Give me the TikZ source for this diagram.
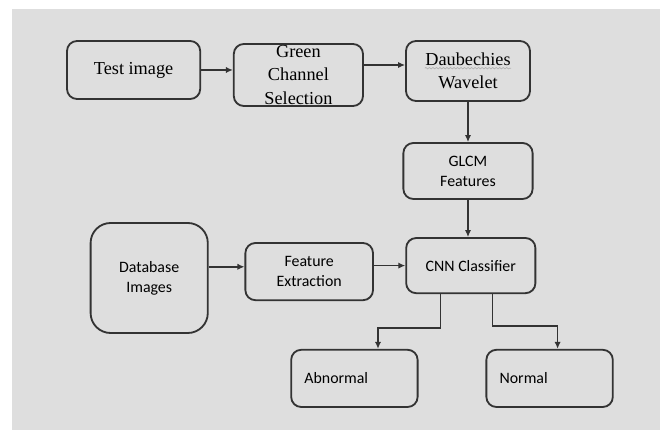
\documentclass[tikz,border=0pt]{standalone}
\usepackage{fontspec}
\setmainfont{Liberation Serif}
\newfontfamily\calibri{Carlito}
\usetikzlibrary{arrows.meta,decorations.pathmorphing}
\definecolor{panelgray}{HTML}{DEDEDE}
\definecolor{linegray}{HTML}{333333}

\begin{document}
\begin{tikzpicture}[->,>={Latex[length=5pt,width=4.5pt]},line width=1.1pt,draw=linegray,
    box node/.style={rounded corners=0.25cm,draw=linegray,line width=1.3pt,align=center,inner sep=0pt,text=black,font=\fontsize{13}{16.4}\selectfont},
    sans node/.style={box node,font=\calibri\fontsize{11.3}{14.2}\selectfont},
    out node/.style={sans node,align=left,text width=2.5cm,inner xsep=0.33cm}]
    \fill[panelgray] (0.31,-0.225) rectangle (16.5,-10.75);
    \useasboundingbox (0,0) rectangle (16.5,-10.75);

    \node[box node,minimum width=3.33cm,minimum height=1.45cm] (test) at (3.34,-1.75) {Test image};
    \node[box node,minimum width=3.23cm,minimum height=1.55cm,inner ysep=-3pt] (green) [right of=test,node distance=4.12cm,yshift=-0.125cm] {Green\\Channel\\Selection};
    \node[box node,minimum width=3.1cm,minimum height=1.5cm] (daub) [right of=green,node distance=4.24cm,yshift=0.1cm] {Daubechies\\Wavelet};
    \node[sans node,minimum width=3.23cm,minimum height=1.4cm] (glcm) [below of=daub,node distance=2.5cm] {GLCM\\Features};
    \node[sans node,minimum width=3.23cm,minimum height=1.38cm] (cnn) [below of=glcm,node distance=2.365cm,xshift=0.07cm] {CNN Classifier};
    \node[sans node,minimum width=3.19cm,minimum height=1.43cm] (fe) [left of=cnn,node distance=4.04cm,yshift=-0.15cm] {Feature\\Extraction};
    \node[sans node,rounded corners=0.5cm,minimum width=2.93cm,minimum height=2.75cm] (db) [left of=fe,node distance=4cm,yshift=-0.16cm] {Database\\Images};
    \node[out node,minimum height=1.43cm] (abn) [below of=cnn,node distance=2.82cm,xshift=-2.91cm] {Abnormal};
    \node[out node,minimum height=1.43cm] (norm) [right of=abn,node distance=4.88cm] {Normal};

    % spell-check squiggle under Daubechies
    \draw[-,gray!60,line width=0.5pt,decorate,decoration={snake,amplitude=0.5pt,segment length=2.5pt}] ([xshift=-1.08cm,yshift=0.07cm]daub.center) -- ([xshift=1.08cm,yshift=0.07cm]daub.center);

    \coordinate (gout) at ([yshift=0.25cm]green.east);
    \coordinate (dbout) at ([yshift=0.28cm]db.east);
    \draw (test.east) -- (test.east -| green.west);
    \draw (gout) -- (gout -| daub.west);
    \draw (daub.south) -- (daub.south |- glcm.north);
    \draw (glcm.south) -- (glcm.south |- cnn.north);
    \draw (dbout) -- (dbout -| fe.west);
    \draw (cnn.west -| fe.east) -- (cnn.west);
    \draw ([xshift=-0.76cm]cnn.south) -- ++(0,-0.85) -| ([xshift=0.59cm]abn.north);
    \draw ([xshift=0.54cm]cnn.south) -- ++(0,-0.8) -| ([xshift=0.2cm]norm.north);
\end{tikzpicture}
\end{document}
